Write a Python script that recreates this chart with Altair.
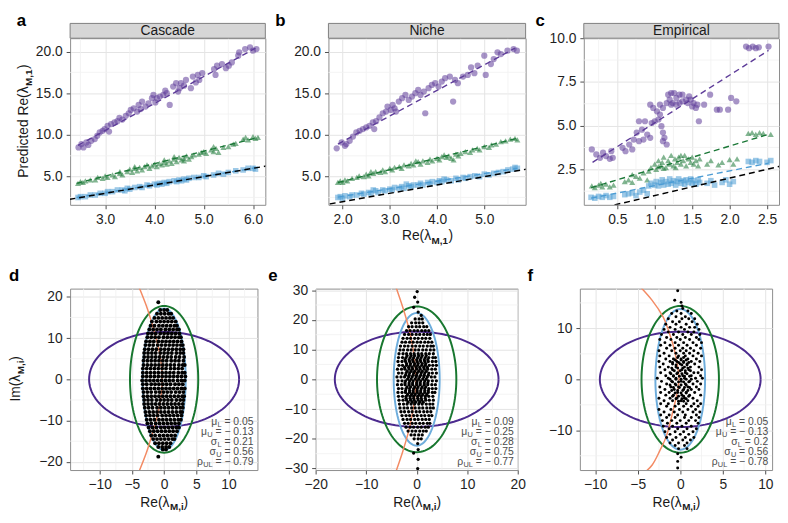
import altair as alt
import pandas as pd

FONT = "Liberation Sans"

# ---------------- data ----------------
panel_titles = ["Cascade", "Niche", "Empirical"]
point_colors = {"purple": "#5E3C99", "green": "#1B7837", "blue": "#4C9CD4"}
point_shapes = {"purple": "circle", "green": "triangle-up", "blue": "square"}
point_sizes = {"purple": 40, "green": 38, "blue": 32}
ellipse_colors = {"purple": "#4B2A8E", "green": "#18772F", "blue": "#6EADDC"}
curve_color = "#F38B64"

# panel a (Cascade)
a_purple = [(2.46, 8.5), (2.52, 8.9), (2.56, 8.5), (2.62, 9.1), (2.66, 8.8), (2.72, 9.3), (2.79, 9.5), (2.84, 9.9),
            (2.89, 10.3), (2.95, 10.5), (2.99, 10.7), (3.05, 11.1), (3.08, 10.4), (3.12, 11.3), (3.19, 11.5),
            (3.25, 11.65), (3.29, 12.05), (3.35, 11.85), (3.42, 12.3), (3.48, 12.6), (3.52, 13.0), (3.58, 13.2),
            (3.65, 12.8), (3.68, 13.6), (3.72, 13.1), (3.75, 14.0), (3.82, 13.4), (3.88, 13.8), (3.95, 14.4),
            (3.98, 14.8), (4.02, 13.9), (4.05, 14.4), (4.11, 14.6), (4.18, 14.8), (4.22, 15.3), (4.25, 15.0),
            (4.31, 13.6), (4.38, 15.8), (4.44, 16.2), (4.48, 15.2), (4.51, 15.6), (4.54, 16.2), (4.6, 15.9),
            (4.64, 16.6), (4.74, 15.6), (4.78, 17.0), (4.84, 16.3), (4.88, 17.2), (4.91, 16.6), (4.97, 17.4),
            (5.21, 17.9), (5.24, 17.2), (5.27, 18.3), (5.37, 18.5), (5.45, 18.0), (5.51, 18.3), (5.57, 18.7),
            (5.7, 19.5), (5.72, 19.9), (5.84, 20.3), (5.94, 20.5), (6.0, 20.1), (6.07, 20.3)]
a_green = [(2.45, 4.2), (2.5, 4.4), (2.55, 4.3), (2.6, 4.5), (2.7, 4.6), (2.8, 4.6), (2.85, 4.9), (2.95, 4.8),
           (3.0, 5.1), (3.05, 4.9), (3.15, 5.2), (3.2, 5.0), (3.3, 5.4), (3.35, 5.2), (3.45, 5.6), (3.5, 5.9),
           (3.55, 5.5), (3.6, 6.0), (3.65, 5.7), (3.7, 6.1), (3.75, 5.8), (3.8, 6.2), (3.85, 6.4), (3.9, 6.0),
           (3.95, 6.3), (4.0, 6.5), (4.05, 6.2), (4.1, 6.6), (4.15, 6.4), (4.2, 6.7), (4.25, 6.5), (4.3, 6.9),
           (4.35, 6.6), (4.4, 7.1), (4.45, 6.8), (4.5, 7.3), (4.55, 7.0), (4.6, 7.2), (4.65, 7.5), (4.7, 7.1),
           (4.75, 7.4), (4.8, 7.6), (4.9, 7.7), (4.95, 7.9), (5.0, 8.0), (5.05, 7.8), (5.15, 8.2), (5.2, 8.0),
           (5.25, 8.4), (5.3, 7.9), (5.4, 8.5), (5.5, 8.6), (5.6, 8.9), (5.65, 9.0), (5.8, 9.5), (5.85, 9.7),
           (5.9, 9.4), (6.0, 9.8), (6.05, 9.6), (6.1, 9.7), (4.6, 6.9), (4.4, 7.4), (3.6, 6.2), (3.3, 5.6),
           (4.2, 7.0), (5.2, 8.6)]
a_blue = [(2.45, 2.5), (2.5, 2.6), (2.6, 2.6), (2.7, 2.8), (2.8, 2.8), (2.9, 3.0), (3.0, 3.0), (3.05, 3.2),
          (3.15, 3.2), (3.25, 3.4), (3.35, 3.4), (3.45, 3.6), (3.5, 3.5), (3.6, 3.7), (3.7, 3.8), (3.75, 3.7),
          (3.85, 4.0), (3.9, 3.9), (4.0, 4.1), (4.05, 4.0), (4.1, 4.2), (4.2, 4.3), (4.25, 4.2), (4.3, 4.4),
          (4.4, 4.5), (4.45, 4.4), (4.5, 4.6), (4.6, 4.7), (4.65, 4.6), (4.7, 4.8), (4.8, 4.9), (4.9, 4.9),
          (5.0, 5.1), (5.05, 5.0), (5.2, 5.2), (5.3, 5.4), (5.4, 5.3), (5.5, 5.5), (5.65, 5.7), (5.8, 5.8),
          (5.9, 6.0), (6.0, 6.0), (6.05, 5.9), (3.4, 3.3), (4.15, 4.1), (4.55, 4.5)]
a_fits = {"purple": (2.45, 8.75, 6.05, 20.4), "green": (2.42, 4.2, 6.11, 9.7), "blue": (2.42, 2.5, 6.1, 6.1)}

# panel b (Niche)
b_purple = [(1.875, 8.4), (1.98, 9.1), (2.08, 8.9), (2.15, 9.3), (2.05, 8.7), (2.22, 9.8), (2.29, 10.3),
            (2.36, 10.5), (2.43, 10.7), (2.5, 10.9), (2.57, 11.1), (2.64, 11.5), (2.71, 11.65), (2.67, 10.7),
            (2.78, 12.1), (2.85, 12.6), (2.92, 12.8), (2.95, 13.4), (3.02, 13.0), (3.06, 13.6), (3.13, 12.8),
            (3.19, 14.0), (3.26, 14.4), (3.33, 14.8), (3.4, 14.2), (3.47, 14.6), (3.54, 15.0), (3.65, 14.8),
            (3.75, 12.6), (3.72, 15.2), (3.82, 15.6), (3.89, 16.0), (3.96, 16.2), (4.03, 15.8), (4.1, 16.4),
            (4.17, 16.8), (4.27, 17.0), (4.34, 14.0), (4.38, 16.6), (4.44, 16.2), (4.55, 17.0), (4.65, 17.2),
            (4.72, 18.1), (4.79, 17.4), (4.86, 18.3), (5.0, 19.5), (5.03, 17.2), (5.14, 18.5), (5.2, 19.1),
            (5.28, 19.9), (5.35, 19.7), (5.49, 20.1), (5.62, 20.3), (5.69, 20.1), (3.1, 13.2), (3.6, 15.4)]
b_green = [(1.9, 4.3), (1.95, 4.5), (2.0, 4.3), (2.05, 4.6), (2.1, 4.5), (2.2, 4.8), (2.3, 4.9), (2.35, 5.1),
           (2.45, 5.0), (2.5, 5.3), (2.55, 5.1), (2.65, 5.4), (2.7, 5.6), (2.8, 5.5), (2.85, 5.8), (2.9, 5.6),
           (3.0, 6.0), (3.05, 5.8), (3.1, 6.1), (3.2, 6.2), (3.25, 6.0), (3.3, 6.4), (3.4, 6.3), (3.45, 6.6),
           (3.5, 6.4), (3.6, 6.8), (3.65, 6.5), (3.7, 6.9), (3.8, 6.7), (3.85, 7.1), (3.9, 6.9), (4.0, 7.2),
           (4.05, 7.0), (4.1, 7.4), (4.2, 7.3), (4.25, 7.5), (4.3, 7.2), (4.4, 7.7), (4.45, 7.5), (4.5, 7.8),
           (4.6, 8.0), (4.7, 7.9), (4.75, 8.2), (4.85, 8.4), (4.9, 8.2), (5.0, 8.6), (5.1, 8.5), (5.15, 8.8),
           (5.25, 8.9), (5.35, 9.2), (5.45, 9.3), (5.55, 9.5), (5.65, 9.6), (5.7, 9.4), (2.6, 5.6), (3.55, 6.9),
           (4.15, 7.6), (4.35, 7.0)]
b_blue = [(1.9, 2.5), (1.95, 2.6), (2.0, 2.4), (2.05, 2.7), (2.15, 2.6), (2.2, 2.8), (2.3, 2.8), (2.4, 3.0),
          (2.45, 2.9), (2.55, 3.1), (2.6, 3.0), (2.7, 3.3), (2.75, 3.1), (2.85, 3.4), (2.9, 3.3), (3.0, 3.5),
          (3.05, 3.4), (3.1, 3.7), (3.2, 3.6), (3.25, 3.8), (3.3, 3.6), (3.4, 3.9), (3.45, 3.8), (3.5, 4.0),
          (3.6, 4.0), (3.65, 4.2), (3.7, 4.0), (3.8, 4.3), (3.85, 4.1), (3.9, 4.4), (4.0, 4.3), (4.05, 4.5),
          (4.1, 4.4), (4.2, 4.6), (4.3, 4.5), (4.4, 4.8), (4.45, 4.6), (4.55, 4.9), (4.6, 4.8), (4.7, 5.0),
          (4.8, 5.1), (4.9, 5.0), (5.0, 5.3), (5.1, 5.2), (5.2, 5.4), (5.3, 5.5), (5.4, 5.6), (5.5, 5.8),
          (5.6, 5.9), (5.65, 6.1), (5.7, 6.0), (3.35, 4.1), (4.15, 4.7), (2.65, 3.4)]
b_fits = {"purple": (1.9, 8.9, 5.65, 20.4), "green": (1.9, 4.3, 5.7, 9.6), "blue": (1.9, 2.55, 5.7, 6.0)}

# panel c (Empirical)
c_purple = [(0.16, 3.64), (0.22, 3.35), (0.27, 3.16), (0.31, 3.45), (0.35, 3.26), (0.4, 3.1), (0.44, 3.16),
            (0.42, 3.54), (0.57, 3.73), (0.61, 3.54), (0.66, 3.92), (0.7, 3.64), (0.72, 4.2), (0.76, 4.6),
            (0.79, 4.11), (0.83, 4.77), (0.85, 4.2), (0.9, 4.49), (0.94, 4.3), (0.79, 5.25), (0.87, 5.25),
            (0.96, 5.15), (1.0, 5.25), (1.05, 5.35), (1.11, 4.6), (1.13, 4.3), (1.09, 4.97), (0.94, 6.2),
            (0.98, 6.01), (1.03, 5.82), (1.07, 5.63), (1.11, 6.01), (1.16, 6.29), (1.18, 6.77), (1.22, 6.86),
            (1.26, 6.86), (1.29, 6.58), (1.33, 6.29), (1.37, 6.39), (1.42, 6.48), (1.46, 6.67), (1.48, 6.48),
            (1.52, 6.29), (1.55, 6.01), (1.2, 6.48), (1.22, 6.2), (1.24, 6.29), (1.29, 6.2), (1.07, 6.2),
            (1.59, 5.25), (1.37, 6.77), (1.33, 6.77), (1.44, 6.29), (1.5, 6.1), (1.57, 6.2), (1.66, 6.2),
            (1.74, 6.77), (1.83, 5.91), (1.87, 5.91), (1.98, 5.91), (2.02, 6.58), (2.09, 6.39), (2.22, 9.52),
            (2.26, 9.43), (2.31, 9.52), (2.35, 9.43), (2.39, 9.48), (2.52, 9.52), (1.11, 4.11), (1.16, 3.92)]
c_green = [(0.16, 1.55), (0.2, 1.45), (0.25, 1.6), (0.3, 1.5), (0.35, 1.65), (0.4, 1.5), (0.45, 1.6), (0.28, 1.7),
           (0.6, 1.8), (0.65, 1.9), (0.7, 1.75), (0.75, 2.1), (0.8, 2.0), (0.85, 2.3), (0.9, 1.9), (0.92, 2.4),
           (0.7, 2.2), (0.95, 2.6), (1.0, 2.8), (1.02, 2.5), (1.05, 3.0), (1.08, 2.7), (1.1, 2.9), (1.12, 3.2),
           (1.15, 2.6), (1.18, 3.0), (1.2, 2.8), (1.22, 3.3), (1.25, 2.7), (1.27, 3.1), (1.3, 2.9), (1.32, 3.2),
           (1.35, 2.8), (1.38, 3.0), (1.4, 3.3), (1.42, 2.7), (1.45, 3.1), (1.48, 2.9), (1.5, 3.2), (1.52, 2.8),
           (1.55, 3.0), (1.58, 2.7), (1.6, 3.1), (1.12, 2.55), (1.28, 2.6), (1.35, 3.3), (1.05, 2.65),
           (1.7, 2.8), (1.75, 3.0), (1.85, 2.75), (1.9, 2.9), (2.0, 3.05), (2.05, 2.8), (2.1, 3.1),
           (2.25, 4.55), (2.3, 4.6), (2.35, 4.5), (2.4, 4.6), (2.45, 4.55), (2.55, 4.5)]
c_blue = [(0.15, 0.9), (0.2, 0.85), (0.25, 0.95), (0.3, 0.9), (0.35, 1.0), (0.4, 0.9), (0.45, 0.95),
          (0.6, 1.05), (0.65, 1.1), (0.7, 1.15), (0.75, 1.0), (0.8, 1.2), (0.85, 1.3), (0.9, 1.1),
          (0.92, 1.55), (0.95, 1.7), (1.0, 1.6), (1.02, 1.8), (1.05, 1.55), (1.08, 1.75), (1.1, 1.9), (1.12, 1.6),
          (1.15, 1.8), (1.18, 1.65), (1.2, 1.95), (1.22, 1.7), (1.25, 1.85), (1.28, 1.6), (1.3, 1.8), (1.32, 1.95),
          (1.35, 1.7), (1.38, 1.85), (1.4, 1.65), (1.42, 1.9), (1.45, 1.75), (1.48, 1.95), (1.5, 1.7), (1.52, 1.85),
          (1.55, 1.65), (1.58, 1.9), (1.6, 1.75), (1.7, 1.7), (1.75, 1.85), (1.8, 1.6), (1.9, 1.75), (1.95, 1.9),
          (2.0, 1.65), (2.05, 1.8), (2.25, 2.95), (2.3, 2.9), (2.35, 3.0), (2.4, 2.95), (2.5, 2.9), (2.55, 3.0)]
c_fits = {"purple": (0.17, 2.9, 2.52, 9.3), "green": (0.15, 1.45, 2.52, 4.5), "blue": (0.15, 0.85, 2.52, 2.85)}

# bottom panels: eigenvalue clouds, rows of  y: [x, ...]
d_cloud = {
    16.8: [-0.6, 0.0, 0.5], 15.9: [-1.1, -0.5, 0.1, 0.7, 1.1], 14.9: [-1.5, -0.9, -0.3, 0.3, 0.9, 1.4],
    14.0: [-1.9, -1.2, -0.6, 0.0, 0.6, 1.2, 1.8], 13.0: [-2.1, -1.5, -0.8, -0.2, 0.4, 1.0, 1.6, 2.0],
    12.1: [-2.3, -1.7, -1.1, -0.5, 0.2, 0.8, 1.4, 2.0, 2.3], 11.1: [-2.5, -1.9, -1.3, -0.6, 0.0, 0.6, 1.2, 1.8, 2.4],
    10.2: [-2.6, -2.0, -1.4, -0.8, -0.1, 0.5, 1.1, 1.7, 2.3, 2.6],
    9.2: [-2.8, -2.2, -1.6, -0.9, -0.3, 0.3, 0.9, 1.5, 2.1, 2.7],
    8.3: [-2.9, -2.3, -1.7, -1.0, -0.4, 0.2, 0.8, 1.4, 2.0, 2.6, 2.9],
    7.3: [-3.0, -2.4, -1.8, -1.2, -0.5, 0.1, 0.7, 1.3, 1.9, 2.5, 3.0],
    6.4: [-3.1, -2.5, -1.9, -1.3, -0.6, 0.0, 0.6, 1.2, 1.9, 2.5, 3.0],
    5.4: [-3.1, -2.5, -1.9, -1.3, -0.7, -0.1, 0.5, 1.1, 1.8, 2.4, 3.1],
    4.5: [-3.2, -2.6, -2.0, -1.4, -0.8, -0.2, 0.4, 1.1, 1.7, 2.3, 3.0],
    3.5: [-3.2, -2.6, -2.0, -1.4, -0.8, -0.2, 0.4, 1.0, 1.6, 2.3, 2.9, 3.2],
    2.6: [-3.3, -2.7, -2.1, -1.5, -0.9, -0.3, 0.3, 1.0, 1.6, 2.2, 2.8],
    1.6: [-3.3, -2.7, -2.1, -1.5, -0.9, -0.3, 0.3, 0.9, 1.5, 2.2, 2.8, 3.2],
    0.7: [-3.3, -2.7, -2.1, -1.5, -0.9, -0.3, 0.3, 0.9, 1.5, 2.1, 2.7, 3.3],
    -0.3: [-3.4, -2.8, -2.2, -1.6, -1.0, -0.4, 0.2, 0.8, 1.4, 2.1, 2.7, 3.2],
    -1.2: [-3.3, -2.7, -2.0, -1.4, -0.8, -0.2, 0.4, 1.0, 1.7, 2.3, 2.9],
    -2.2: [-3.3, -2.7, -2.1, -1.5, -0.9, -0.3, 0.3, 0.9, 1.5, 2.1, 2.7, 3.2],
    -3.1: [-3.2, -2.6, -2.0, -1.3, -0.7, -0.1, 0.5, 1.1, 1.8, 2.4, 3.0],
    -4.1: [-3.2, -2.6, -2.0, -1.4, -0.8, -0.2, 0.4, 1.0, 1.6, 2.2, 2.8, 3.1],
    -5.0: [-3.1, -2.5, -1.9, -1.2, -0.6, 0.0, 0.6, 1.2, 1.9, 2.5, 3.0],
    -6.0: [-3.1, -2.5, -1.9, -1.3, -0.7, -0.1, 0.5, 1.1, 1.7, 2.3, 2.9],
    -6.9: [-3.0, -2.4, -1.8, -1.1, -0.5, 0.1, 0.7, 1.3, 1.9, 2.5, 2.9],
    -7.9: [-2.9, -2.3, -1.7, -1.1, -0.5, 0.1, 0.7, 1.3, 1.9, 2.5, 2.8],
    -8.8: [-2.8, -2.2, -1.6, -1.0, -0.3, 0.3, 0.9, 1.5, 2.1, 2.7],
    -9.8: [-2.7, -2.1, -1.5, -0.8, -0.2, 0.4, 1.0, 1.6, 2.2, 2.6],
    -10.7: [-2.6, -2.0, -1.3, -0.7, -0.1, 0.5, 1.1, 1.7, 2.3],
    -11.7: [-2.4, -1.8, -1.2, -0.5, 0.1, 0.7, 1.3, 1.9, 2.3],
    -12.6: [-2.2, -1.6, -1.0, -0.4, 0.2, 0.8, 1.4, 2.0],
    -13.6: [-2.0, -1.4, -0.7, -0.1, 0.5, 1.1, 1.7], -14.5: [-1.7, -1.1, -0.5, 0.1, 0.7, 1.3, 1.6],
    -15.5: [-1.4, -0.8, -0.2, 0.4, 1.0], -16.4: [-0.9, -0.3, 0.3, 0.8], -17.0: [-0.2, 0.3],
}
d_extra = [(-0.9, 18.7), (-0.9, -18.75)]

e_cloud = {
    20.3: [-0.3, 0.5, 1.1], 19.0: [-1.0, -0.2, 0.5, 1.2], 17.7: [-1.6, -0.9, -0.1, 0.6, 1.4, 2.0],
    16.4: [-2.0, -1.3, -0.5, 0.2, 1.0, 1.7, 2.4], 15.1: [-2.4, -1.6, -0.9, -0.1, 0.6, 1.4, 2.1, 2.7],
    13.8: [-2.7, -1.9, -1.2, -0.4, 0.3, 1.1, 1.8, 2.6], 12.5: [-2.9, -2.2, -1.4, -0.7, 0.1, 0.8, 1.6, 2.3, 3.0],
    11.2: [-3.2, -2.4, -1.7, -0.9, -0.2, 0.6, 1.3, 2.1, 2.8, 3.3],
    9.9: [-3.3, -2.6, -1.8, -1.1, -0.3, 0.4, 1.2, 1.9, 2.7, 3.4],
    8.6: [-3.5, -2.7, -2.0, -1.2, -0.5, 0.3, 1.0, 1.8, 2.5, 3.3],
    7.3: [-3.6, -2.8, -2.1, -1.3, -0.6, 0.2, 0.9, 1.7, 2.4, 3.2, 3.7],
    6.0: [-3.7, -2.9, -2.2, -1.4, -0.7, 0.1, 0.8, 1.6, 2.3, 3.1, 3.8],
    4.7: [-3.5, -2.8, -2.0, -1.3, -0.5, 0.2, 1.0, 1.7, 2.5, 3.2, 3.9],
    3.4: [-3.8, -3.0, -2.3, -1.5, -0.8, 0.0, 0.7, 1.5, 2.2, 3.0, 3.7],
    2.1: [-3.6, -2.9, -2.1, -1.4, -0.6, 0.1, 0.9, 1.6, 2.4, 3.1, 3.9],
    0.8: [-3.9, -3.1, -2.4, -1.6, -0.9, -0.1, 0.6, 1.4, 2.1, 2.9, 3.6],
    -0.5: [-3.7, -2.9, -2.2, -1.4, -0.7, 0.1, 0.8, 1.6, 2.3, 3.1, 3.9],
    -1.8: [-3.8, -3.0, -2.3, -1.5, -0.8, 0.0, 0.7, 1.5, 2.2, 3.0, 3.7],
    -3.1: [-3.6, -2.9, -2.1, -1.4, -0.6, 0.1, 0.9, 1.6, 2.4, 3.1, 3.8],
    -4.4: [-3.7, -2.9, -2.2, -1.4, -0.7, 0.1, 0.8, 1.6, 2.3, 3.1, 3.6],
    -5.7: [-3.6, -2.8, -2.1, -1.3, -0.6, 0.2, 0.9, 1.7, 2.4, 3.2],
    -7.0: [-3.5, -2.7, -2.0, -1.2, -0.5, 0.3, 1.0, 1.8, 2.5, 3.3],
    -8.3: [-3.4, -2.6, -1.9, -1.1, -0.4, 0.4, 1.1, 1.9, 2.6, 3.2],
    -9.6: [-3.3, -2.5, -1.8, -1.0, -0.3, 0.5, 1.2, 2.0, 2.7, 3.3],
    -10.9: [-3.1, -2.4, -1.6, -0.9, -0.1, 0.6, 1.4, 2.1, 2.8],
    -12.2: [-2.9, -2.1, -1.4, -0.6, 0.1, 0.9, 1.6, 2.4, 3.0],
    -13.5: [-2.7, -1.9, -1.2, -0.4, 0.3, 1.1, 1.8, 2.5], -14.8: [-2.4, -1.7, -0.9, -0.2, 0.6, 1.3, 2.1, 2.6],
    -16.1: [-2.1, -1.3, -0.6, 0.2, 0.9, 1.7, 2.3], -17.4: [-1.7, -0.9, -0.2, 0.6, 1.3, 1.9],
    -18.7: [-1.1, -0.4, 0.4, 1.1], -20.0: [-0.5, 0.3, 0.9],
}
e_core = {
    8.0: [-1.9, -1.1, -0.4, 0.4, 1.1, 1.9], 6.6: [-2.3, -1.5, -0.8, 0.0, 0.7, 1.5, 2.2],
    5.3: [-2.0, -1.2, -0.4, 0.3, 1.1, 1.8], 4.0: [-2.4, -1.6, -0.9, -0.1, 0.6, 1.4, 2.1],
    2.7: [-1.9, -1.1, -0.4, 0.4, 1.1, 1.9], 1.4: [-2.2, -1.5, -0.7, 0.0, 0.8, 1.5, 2.3],
    0.1: [-1.8, -1.1, -0.3, 0.4, 1.2, 1.9], -1.2: [-2.3, -1.5, -0.8, 0.0, 0.7, 1.5, 2.2],
    -2.5: [-1.9, -1.2, -0.4, 0.3, 1.1, 1.8], -3.8: [-2.2, -1.4, -0.7, 0.1, 0.8, 1.6, 2.3],
    -5.1: [-1.8, -1.0, -0.3, 0.5, 1.2, 2.0], -6.4: [-2.1, -1.3, -0.6, 0.2, 0.9, 1.7],
    -7.7: [-1.7, -0.9, -0.2, 0.6, 1.3],
}
e_extra = [(0.1, 29.5), (0.2, 26.0), (-0.6, 24.2), (0.3, 22.6), (0.9, 21.5), (-0.4, 27.6), (0.2, -21.6),
           (0.3, -23.6), (-0.6, -24.8), (0.3, -26.9), (0.2, -30.0)]

f_cloud = {
    13.9: [0.3], 13.4: [-0.4, 0.9], 12.9: [-1.0, 0.1, 1.3], 12.3: [-0.5, 0.6], 11.9: [-1.4, 0.2, 1.0, 1.7],
    11.3: [-0.9, -0.1, 1.4], 10.8: [-1.7, -0.5, 0.7, 2.0], 10.2: [-1.2, 0.1, 1.1, 1.7],
    9.8: [-1.9, -0.6, 0.5, 2.2], 9.3: [-1.4, -0.2, 0.9, 1.6], 8.8: [-2.2, -0.8, 0.3, 1.3, 2.3],
    8.2: [-1.6, -0.4, 0.6, 1.9], 7.8: [-2.4, -1.1, 0.0, 1.1, 2.2], 7.2: [-1.8, -0.6, 0.4, 1.5, 2.5],
    6.7: [-2.3, -1.2, -0.2, 0.8, 1.9], 6.1: [-1.6, -0.6, 0.3, 1.2, 2.4], 5.6: [-2.5, -1.0, 0.0, 0.7, 1.6],
    5.1: [-1.9, -0.5, 0.4, 1.1, 2.1], 4.6: [-2.4, -1.3, -0.2, 0.6, 1.5, 2.5], 4.0: [-1.7, -0.8, 0.1, 0.9, 1.9],
    3.5: [-2.5, -1.2, -0.4, 0.4, 1.3, 2.3], 3.0: [-2.0, -0.9, 0.0, 0.8, 1.7],
    2.4: [-2.4, -1.4, -0.5, 0.5, 1.2, 2.2], 1.9: [-1.8, -0.9, 0.2, 1.0, 2.5],
    1.3: [-2.3, -1.2, -0.3, 0.6, 1.6, 2.1], 0.7: [-1.7, -0.8, 0.3, 1.3, 2.4],
    0.2: [-2.7, -1.4, -0.5, 0.5, 1.8, 2.6], -0.4: [-2.2, -1.0, 0.1, 1.1, 2.0],
    -0.9: [-1.6, -0.6, 0.6, 1.5, 2.4], -1.5: [-2.4, -1.1, -0.2, 0.9, 1.9], -2.0: [-1.8, -0.7, 0.4, 1.3, 2.2],
    -2.6: [-2.3, -1.3, -0.3, 0.7, 1.7], -3.1: [-1.7, -0.8, 0.2, 1.1, 2.4], -3.7: [-2.5, -1.2, -0.4, 0.5, 1.5],
    -4.2: [-1.9, -0.9, 0.1, 0.9, 2.0], -4.8: [-2.3, -1.4, -0.2, 0.7, 1.6, 2.4],
    -5.3: [-1.6, -0.6, 0.4, 1.3, 2.1], -5.9: [-2.5, -1.1, -0.1, 0.9, 1.8], -6.4: [-1.9, -0.7, 0.3, 1.5, 2.3],
    -7.0: [-2.3, -1.3, -0.3, 0.6, 1.9], -7.5: [-1.6, -0.6, 0.5, 1.3, 2.2], -8.1: [-2.1, -1.0, 0.0, 1.0, 1.8],
    -8.6: [-1.5, -0.4, 0.7, 2.1], -9.2: [-2.0, -0.9, 0.2, 1.3], -9.7: [-1.3, -0.3, 0.8, 1.9],
    -10.3: [-1.8, -0.6, 0.4, 1.5], -10.8: [-1.2, 0.0, 1.0], -11.4: [-1.6, -0.5, 0.6, 1.6],
    -11.9: [-0.9, 0.3, 1.2], -12.5: [-1.2, -0.2, 0.8], -13.0: [-0.6, 0.5], -13.6: [-0.2, 0.8],
}
f_core = {
    4.3: [-0.3, 0.4], 3.8: [-0.6, 0.1, 0.7], 3.3: [-0.9, -0.2, 0.4, 1.0], 2.8: [-0.5, 0.2, 0.8],
    2.2: [-1.0, -0.3, 0.3, 0.9], 1.7: [-0.7, 0.0, 0.6, 1.2], 1.1: [-1.1, -0.4, 0.2, 0.8],
    0.6: [-0.8, -0.1, 0.5, 1.1], 0.0: [-1.2, -0.5, 0.1, 0.7, 1.3], -0.5: [-0.9, -0.2, 0.4, 1.0],
    -1.1: [-1.2, -0.5, 0.1, 0.7], -1.6: [-0.8, -0.1, 0.5, 1.1], -2.2: [-1.0, -0.3, 0.3, 0.9],
    -2.7: [-0.6, 0.1, 0.7], -3.3: [-0.9, -0.2, 0.4, 1.0], -3.8: [-0.5, 0.2, 0.7], -4.3: [-0.2, 0.4],
}
f_extra = [(-0.3, 17.4), (-0.65, 15.5), (0.1, 15.1), (0.2, 14.4), (-0.3, -14.6), (0.1, -15.3), (-0.3, -16.1),
           (-0.3, -17.4)]

# ellipses: semi-axis along Re, semi-axis along Im
d_ellipses = {"purple": (11.65, 11.5), "green": (5.3, 17.8), "blue": (3.35, 17.15)}
e_ellipses = {"purple": (16.2, 16.0), "green": (7.85, 24.5), "blue": (4.55, 22.3)}
f_ellipses = {"purple": (9.45, 9.35), "green": (4.55, 14.4), "blue": (2.92, 13.8)}

# orange boundary curves (x, y)
d_curve = [(-4.2, 23.5), (-2.8, 18.0), (-1.75, 12.8), (-1.0, 8.5), (-0.5, 4.5), (-0.3, 0.0), (-0.5, -4.5),
           (-1.0, -8.5), (-1.8, -13.0), (-2.8, -18.0), (-4.2, -23.5)]
e_curve = [(-4.3, 32.0), (-2.8, 24.5), (-1.6, 17.5), (-0.85, 11.5), (-0.35, 5.5), (-0.15, 0.0), (-0.35, -5.5),
           (-0.85, -11.5), (-1.6, -17.5), (-2.8, -24.5), (-4.3, -32.0)]
f_curve = [(-4.9, 18.5), (-3.3, 15.5), (-2.0, 12.2), (-1.4, 9.7), (-0.8, 6.5), (-0.35, 3.0), (-0.15, 0.0),
           (-0.4, -3.0), (-0.9, -6.5), (-1.6, -11.0), (-2.4, -14.0), (-3.3, -16.8), (-4.7, -19.0)]

stat_symbols = [("μ", "L"), ("μ", "U"), ("σ", "L"), ("σ", "U"), ("ρ", "UL")]
d_stats = ["0.05", "− 0.13", "0.21", "0.56", "− 0.79"]
e_stats = ["0.09", "− 0.25", "0.28", "0.75", "− 0.77"]
f_stats = ["0.05", "− 0.13", "0.2", "0.56", "− 0.78"]

# ---------------- helpers ----------------
CW = {'R': 0.722, 'e': 0.556, '(': 0.333, ')': 0.333, 'λ': 0.5, 'P': 0.667, 'r': 0.333, 'd': 0.556,
      'i': 0.222, 'c': 0.5, 't': 0.278, ' ': 0.278, 'I': 0.278, 'm': 0.833, 'M': 0.833, ',': 0.278,
      '=': 0.584, '−': 0.584, '.': 0.278, 'L': 0.556, 'U': 0.722, 'μ': 0.576, 'σ': 0.617, 'ρ': 0.572}


def tw(s, size):
    return sum(CW.get(ch, 0.556) for ch in s) * size


def txt(s, x, y, size, bold=False, align="left", angle=0, color="#1A1A1A"):
    kw = dict(align=align, baseline="alphabetic", font=FONT, fontSize=size,
              fontWeight="bold" if bold else "normal", color=color)
    if angle:
        kw["angle"] = angle
    return alt.Chart(pd.DataFrame({"t": [s]})).mark_text(**kw).encode(
        text="t:N", x=alt.value(x), y=alt.value(y))


def axes(xdom, ydom, xt, yt, fmt):
    X = alt.X("x:Q", scale=alt.Scale(domain=xdom, nice=False, zero=False),
              axis=alt.Axis(values=xt, format=fmt, title=None))
    Y = alt.Y("y:Q", scale=alt.Scale(domain=ydom, nice=False, zero=False),
              axis=alt.Axis(values=yt, format=fmt, title=None))
    return X, Y


def minor_grid(X, Y, xm, ym):
    return [
        alt.Chart(pd.DataFrame({"x": xm})).mark_rule(color="#F1F1F1", strokeWidth=0.8).encode(x=X),
        alt.Chart(pd.DataFrame({"y": ym})).mark_rule(color="#F1F1F1", strokeWidth=0.8).encode(y=Y),
    ]


def x_title(w, h, sub, base):
    main, close = "Re(λ", ")"
    wm, ws, wc = tw(main, 14), tw(sub, 10), tw(close, 14)
    x0 = w / 2 - (wm + ws + wc) / 2
    yb = h + base
    return [txt(main, x0, yb, 14), txt(sub, x0 + wm + 0.5, yb + 4, 10, bold=True),
            txt(close, x0 + wm + ws + 1, yb, 14)]


def y_title(h, main, sub, xb):
    close = ")"
    wm, ws, wc = tw(main, 14), tw(sub, 10), tw(close, 14)
    y0 = h / 2 + (wm + ws + wc) / 2
    return [txt(main, xb, y0, 14, angle=270), txt(sub, xb + 4, y0 - wm - 0.5, 10, bold=True, angle=270),
            txt(close, xb, y0 - wm - ws - 1, 14, angle=270)]


def top_panel(letter, title, w, h, xdom, ydom, xt, yt, xm, ym, series, fits, letter_dx,
              ytitle=False, xtitle=False):
    X, Y = axes(xdom, ydom, xt, yt, ".1f")
    layers = minor_grid(X, Y, xm, ym)
    layers.append(alt.Chart(pd.DataFrame({"t": [title]})).mark_rect(
        fill="#D6D6D6", stroke="#7F7F7F", strokeWidth=1).encode(
        x=alt.value(0), x2=alt.value(w), y=alt.value(-15), y2=alt.value(0)))
    layers.append(txt(title, w / 2, -3.2, 14, align="center"))
    for name, pts in series.items():
        df = pd.DataFrame(pts, columns=["x", "y"])
        layers.append(alt.Chart(df).mark_point(
            shape=point_shapes[name], filled=True, color=point_colors[name], opacity=0.55,
            size=point_sizes[name], strokeWidth=0).encode(x=X, y=Y))
    for name, (x1, y1, x2, y2) in fits.items():
        df = pd.DataFrame({"x": [x1, x2], "y": [y1, y2]})
        layers.append(alt.Chart(df).mark_line(
            color=point_colors[name], strokeDash=[6, 4], strokeWidth=1.4, clip=True).encode(x=X, y=Y))
    ident = pd.DataFrame({"x": [xdom[0] - 1, xdom[1] + 1], "y": [xdom[0] - 1, xdom[1] + 1]})
    layers.append(alt.Chart(ident).mark_line(color="black", strokeDash=[6, 4], strokeWidth=1.5,
                                             clip=True).encode(x=X, y=Y))
    layers.append(txt(letter, letter_dx, -12, 17, bold=True, color="black"))
    if ytitle:
        layers += y_title(h, "Predicted Re(λ", "M,1", -43)
    if xtitle:
        layers += x_title(w, h, "M,1", 36)
    return alt.layer(*layers).properties(width=w, height=h)


def bottom_panel(letter, w, h, xdom, ydom, xt, yt, xm, ym, clouds, extra, ellipses, curve, stats,
                 letter_dx, dot_size, ytitle=False, spacer=False):
    X, Y = axes(xdom, ydom, xt, yt, "d")
    layers = minor_grid(X, Y, xm, ym)
    for name, (ea, eb) in ellipses.items():
        layers.append(alt.Chart(pd.DataFrame({"a": [ea], "b": [eb]})).transform_calculate(
            t="sequence(0, 361, 3)").transform_flatten(["t"]).transform_calculate(
            x="datum.a * cos(datum.t * PI / 180)", y="datum.b * sin(datum.t * PI / 180)").mark_line(
            color=ellipse_colors[name], strokeWidth=2, clip=True).encode(x=X, y=Y, order="t:Q"))
    cdf = pd.DataFrame({"x": [p[0] for p in curve], "y": [p[1] for p in curve],
                        "i": list(range(len(curve)))})
    layers.append(alt.Chart(cdf).mark_line(color=curve_color, strokeWidth=1.5, interpolate="natural",
                                           clip=True).encode(x=X, y=Y, order="i:Q"))
    pts = [(x, y) for rows in clouds for y, xs in rows.items() for x in xs] + list(extra)
    layers.append(alt.Chart(pd.DataFrame(pts, columns=["x", "y"])).mark_circle(
        color="black", opacity=1, size=dot_size).encode(x=X, y=Y))
    R = w - 4
    for i, ((g, s), v) in enumerate(zip(stat_symbols, stats)):
        yb = 138 + i * 10.2
        rest = " = " + v
        wr, wsub = tw(rest, 10.5), tw(s, 7.5)
        layers.append(txt(rest, R, yb, 10.5, align="right", color="#4D4D4D"))
        layers.append(txt(s, R - wr, yb + 2.5, 7.5, align="right", color="#4D4D4D"))
        layers.append(txt(g, R - wr - wsub - 0.3, yb, 10.5, align="right", color="#4D4D4D"))
    layers.append(txt(letter, letter_dx, -8, 17, bold=True, color="black"))
    if ytitle:
        layers += y_title(h, "Im(λ", "M,i", -51)
    layers += x_title(w, h, "M,i", 37)
    if spacer:
        layers.append(alt.Chart(pd.DataFrame({"t": [0]})).mark_rule(color="white", strokeOpacity=0).encode(
            x=alt.value(w + 9), y=alt.value(0), y2=alt.value(1)))
    return alt.layer(*layers).properties(width=w, height=h)


# ---------------- panels ----------------
TH = 169
pa = top_panel("a", panel_titles[0], 198, TH, [2.29, 6.25], [1.62, 21.6], [3, 4, 5, 6], [5, 10, 15, 20],
               [2.5, 3.5, 4.5, 5.5], [2.5, 7.5, 12.5, 17.5],
               {"purple": a_purple, "green": a_green, "blue": a_blue}, a_fits, -54, ytitle=True)
pb = top_panel("b", panel_titles[1], 200, TH, [1.70, 5.875], [1.62, 21.6], [2, 3, 4, 5], [5, 10, 15, 20],
               [2.5, 3.5, 4.5, 5.5], [2.5, 7.5, 12.5, 17.5],
               {"purple": b_purple, "green": b_green, "blue": b_blue}, b_fits, -54, xtitle=True)
pc = top_panel("c", panel_titles[2], 198, TH, [0.053, 2.66], [0.47, 10.0], [0.5, 1.0, 1.5, 2.0, 2.5],
               [2.5, 5.0, 7.5, 10.0], [0.25, 0.75, 1.25, 1.75, 2.25], [1.25, 3.75, 6.25, 8.75],
               {"purple": c_purple, "green": c_green, "blue": c_blue}, c_fits, -49)

BH = 184
pdd = bottom_panel("d", 190, BH, [-14.6, 14.5], [-22, 22], [-10, -5, 0, 5, 10], [-20, -10, 0, 10, 20],
                   [-12.5, -7.5, -2.5, 2.5, 7.5, 12.5], [-15, -5, 5, 15], [d_cloud], d_extra, d_ellipses,
                   d_curve, d_stats, -62, 16, ytitle=True, spacer=True)
pe = bottom_panel("e", 205, BH, [-20, 20], [-30.5, 30.5], [-20, -10, 0, 10, 20], [-30, -20, -10, 0, 10, 20, 30],
                  [-15, -5, 5, 15], [-25, -15, -5, 5, 15, 25], [e_cloud, e_core], e_extra, e_ellipses,
                  e_curve, e_stats, -48, 11)
pf = bottom_panel("f", 195, BH, [-11.8, 10.8], [-17.8, 17.8], [-10, -5, 0, 5, 10], [-10, 0, 10],
                  [-7.5, -2.5, 2.5, 7.5], [-15, -5, 5, 15], [f_cloud, f_core], f_extra, f_ellipses,
                  f_curve, f_stats, -53, 9)

top = alt.hconcat(pa, pb, pc, spacing=8)
bottom = alt.hconcat(pdd, pe, pf, spacing=0)

chart = alt.vconcat(top, bottom, spacing=19).properties(padding=0).configure_view(
    stroke="#8C8C8C", strokeWidth=1
).configure_axis(
    domain=False, tickColor="#4D4D4D", tickSize=4, tickWidth=1, labelFont=FONT, labelFontSize=14,
    labelColor="#1F1F1F", labelPadding=4, grid=True, gridColor="#E4E4E4", gridWidth=1,
    labelFlush=False, labelOverlap=False
)

chart.save("out.html", embed_options={"renderer": "svg", "actions": False})
